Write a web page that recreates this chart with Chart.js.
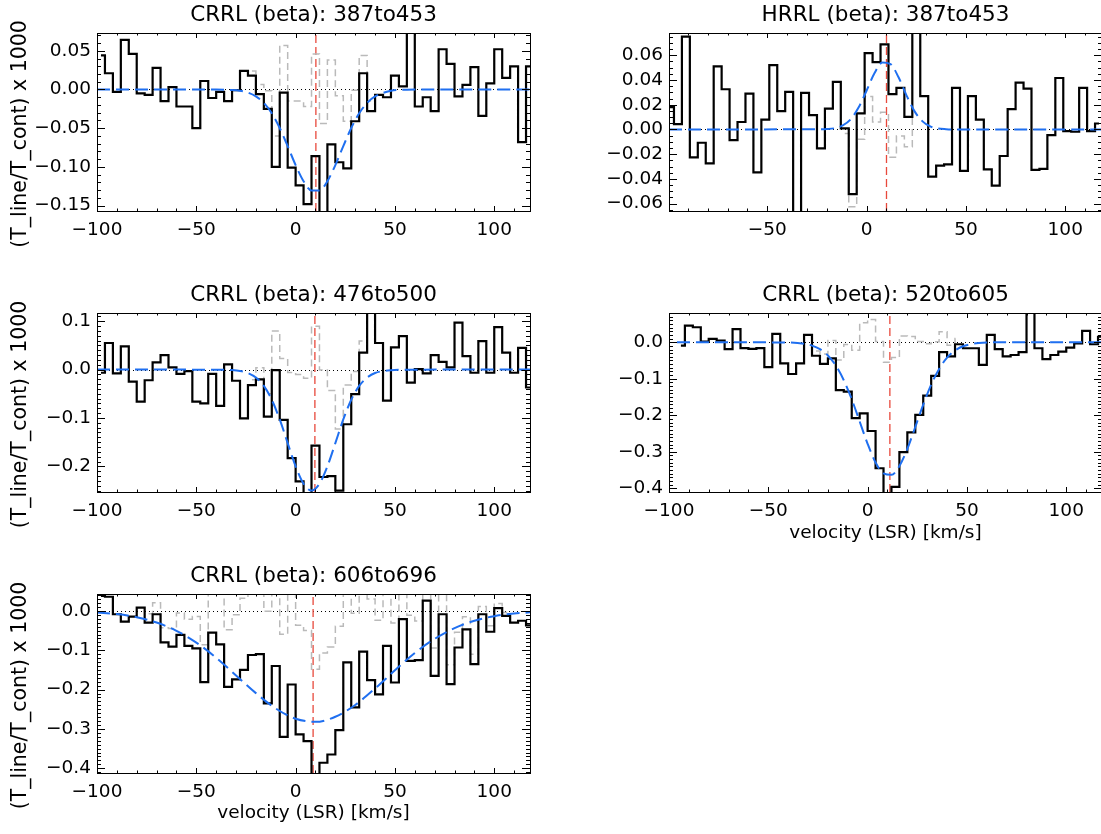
<!DOCTYPE html>
<html>
<head>
<meta charset="utf-8">
<script src="https://cdn.jsdelivr.net/npm/chart.js@4.4.1/dist/chart.umd.min.js"></script>
<style>
  body { margin: 0; background: #fff; width: 1101px; height: 834px; overflow: hidden; position: relative; }
  canvas { position: absolute; }
</style>
</head>
<body>
<canvas id="p1" width="560" height="280" style="left:0;top:0"></canvas>
<canvas id="p2" width="560" height="280" style="left:560px;top:0"></canvas>
<canvas id="p3" width="560" height="280" style="left:0;top:280px"></canvas>
<canvas id="p4" width="560" height="280" style="left:560px;top:280px"></canvas>
<canvas id="p5" width="560" height="273" style="left:0;top:561px"></canvas>
<script>
// velocity grids (bin centres, km/s)
var velCRRL = [-98, -94, -90, -86, -82, -78, -74, -70, -66, -62, -58, -54, -50, -46, -42, -38, -34, -30, -26, -22,
  -18, -14, -10, -6, -2, 2, 6, 10, 14, 18, 22, 26, 30, 34, 38, 42, 46, 50, 54, 58, 62, 66, 70, 74, 78, 82, 86, 90,
  94, 98, 102, 106, 110, 114, 118];
var velHRRL = [-99, -95, -91, -87, -83, -79, -75, -71, -67, -63, -59, -55, -51, -47, -43, -39, -35, -31, -27, -23,
  -19, -15, -11, -7, -3, 1, 5, 9, 13, 17, 21, 25, 29, 33, 37, 41, 45, 49, 53, 57, 61, 65, 69, 73, 77, 81, 85, 89,
  93, 97, 101, 105, 109, 113, 117];
var vel520 = [-94, -90, -86, -82, -78, -74, -70, -66, -62, -58, -54, -50, -46, -42, -38, -34, -30, -26, -22, -18,
  -14, -10, -6, -2, 2, 6, 10, 14, 18, 22, 26, 30, 34, 38, 42, 46, 50, 54, 58, 62, 66, 70, 74, 78, 82, 86, 90,
  94, 98, 102, 106, 110, 114, 118];

// spectra (T_line/T_cont x 1000)
var flux387 = [0.044, 0.021, -0.003, 0.064, 0.046, -0.005, -0.007, 0.028, -0.015, 0.003,
  -0.022, -0.022, -0.050, 0.011, -0.011, -0.003, -0.015, -0.001, 0.024, 0.018,
  -0.006, -0.025, -0.100, -0.004, -0.101,
  -0.124, -0.148, -0.086, -0.170, -0.071, -0.094, -0.102, -0.041, 0.021, -0.028,
  -0.007, -0.010, 0.018, 0.004, 0.085, -0.022, -0.010, -0.028, 0.052, 0.033,
  -0.009, 0.006, 0.029, -0.034, 0.008, 0.052, 0.015, 0.030, -0.068, 0.030];
var hrrl387 = [0.018, 0.0043, 0.075, -0.0226, -0.0108, -0.0274, 0.051, 0.0325, -0.0086, 0.006,
  0.029, -0.0347, 0.008, 0.052, 0.0148, 0.0303, -0.075, 0.0295, 0.0115, -0.0153,
  0.0169, 0.0384, 0.0008, -0.0524, 0.0129,
  0.0618, 0.0545, 0.0688, 0.0285, 0.0336, 0.0102, 0.085, 0.0269, -0.0382, -0.0293,
  -0.0282, 0.0336, -0.0336, 0.0269, 0.008, -0.0323, -0.0455, -0.0215, 0.0164, 0.0379,
  0.033, -0.0328, -0.032, -0.0046, 0.0416, -0.0014, -0.0019, 0.0336, -0.0014, 0.0048];
var flux476 = [-0.0065, 0.055, -0.008, 0.048, -0.025, -0.066, -0.022, 0.015, 0.030, 0.0045,
  -0.009, -0.003, -0.066, -0.070, -0.009, -0.075, 0.011, -0.023, -0.101, -0.032,
  -0.020, -0.097, -0.001, -0.104, -0.183,
  -0.231, -0.265, -0.157, -0.222, -0.220, -0.250, -0.113, -0.0505, 0.035, 0.125,
  0.055, -0.064, 0.046, 0.069, -0.027, 0.001, -0.008, 0.030, 0.016, 0.0045,
  0.097, 0.028, -0.0065, 0.059, -0.0065, 0.088, 0.035, -0.0065, 0.045, -0.037];
var flux520 = [-0.0093, 0.0455, 0.041, 0.0016, 0.009, 0.0044, -0.019, 0.036, -0.016, -0.018,
  -0.016, -0.068, 0.023, -0.058, -0.087, -0.058, 0.020, -0.037, -0.059, -0.044,
  -0.131, -0.135, -0.208, -0.195,
  -0.243, -0.345, -0.420, -0.396, -0.301, -0.247, -0.199, -0.146, -0.092, -0.027,
  -0.039, -0.0055, -0.0165, -0.0165, -0.062, 0.020, -0.019, -0.039, -0.035, -0.027,
  0.090, -0.0165, -0.046, -0.035, -0.026, -0.015, -0.003, 0.031, -0.0055, 0.015];
var flux606 = [0.038, 0.036, -0.0085, -0.027, -0.0145, 0.0085, -0.030, -0.0085, -0.080, -0.091,
  -0.061, -0.089, -0.095, -0.181, -0.055, -0.085, -0.193, -0.174, -0.150, -0.112,
  -0.110, -0.235, -0.140, -0.320, -0.187,
  -0.314, -0.331, -0.430, -0.386, -0.365, -0.303, -0.131, -0.245, -0.1035, -0.176,
  -0.212, -0.089, -0.182, -0.021, -0.127, -0.125, 0.026, -0.165, -0.0085, -0.186,
  -0.093, -0.047, -0.135, -0.0085, -0.053, 0.007, -0.0127, -0.030, -0.025, -0.037];

// residuals (data - fit), only around the line
var res387V = [-22, -18, -14, -10, -6, -2, 2, 6, 10, 14, 18, 22, 26, 30, 34, 38];
var res387 = [0.024, 0.0065, -0.0016, -0.060, 0.057, -0.015, -0.015, -0.022, 0.046, -0.044, 0.038, -0.008, -0.041, -0.001, 0.044, -0.015];
var resH387V = [-11, -7, -3, 1, 5, 9, 13, 17, 21, 25];
var resH387 = [-0.0033, -0.0626, -0.008, 0.0266, 0.006, 0.0138, -0.0225, -0.0053, -0.0141, 0.018];
var res476V = [-22, -18, -14, -10, -6, -2, 2, 6, 10, 14, 18, 22, 26, 30, 34];
var res476 = [-0.021, 0.004, -0.050, 0.080, 0.023, -0.006, -0.010, -0.018, 0.0895, -0.001, -0.043, -0.123, -0.032, -0.004, 0.059];
var res520V = [-26, -22, -18, -14, -10, -6, -2, 2, 6, 10, 14, 18, 22, 26, 30, 34, 38, 42, 46];
var res520 = [-0.024, -0.032, 0.005, -0.049, -0.006, -0.022, 0.053, 0.062, 0.002, -0.055, -0.042, 0.017, 0.016, 0.002, -0.004, 0.001, 0.029, -0.008, 0.0105];
var res606V = [-74, -70, -66, -62, -58, -54, -50, -46, -42, -38, -34, -30, -26, -22, -18, -14, -10, -6, -2,
  2, 6, 10, 14, 18, 22, 26, 30, 34, 38, 42, 46, 50, 54, 58, 62, 66, 70, 74, 78, 82, 86, 90, 94, 98, 102, 106, 110];
var res606 = [-0.007, 0.021, -0.043, -0.045, -0.005, -0.0215, -0.0145, -0.086, 0.056, 0.043,
  -0.048, -0.010, 0.032, 0.088, 0.108, -0.001, 0.108, -0.059, 0.084,
  -0.0365, -0.050, -0.148, -0.107, -0.092, -0.039, 0.121, -0.006, 0.119, 0.030,
  -0.024, 0.080, -0.031, 0.112, -0.011, -0.0255, 0.111, -0.094, 0.051, -0.137,
  -0.054, -0.015, -0.110, 0.011, -0.038, 0.019, -0.004, -0.023];

// gaussian fits
var fit387V = [-100, -40, -32, -28, -24, -20, -16, -12, -8, -4, 0, 4, 8, 12, 16, 20, 24, 28, 32, 36, 40, 48, 56, 118];
var fit387 = [0, -0.0001, -0.0007, -0.0017, -0.0041, -0.0089, -0.0173, -0.0308, -0.0498, -0.0732, -0.0977, -0.1185,
  -0.1304, -0.1304, -0.1185, -0.0977, -0.0732, -0.0498, -0.0308, -0.0173, -0.0089, -0.0017, -0.0002, 0];
var fitH387V = [-99.5, -24, -20, -16, -12, -8, -4, 0, 4, 8, 12, 16, 20, 24, 28, 32, 36, 40, 44, 118.5];
var fitH387 = [0, 0.0001, 0.0003, 0.0010, 0.0032, 0.0083, 0.0179, 0.0315, 0.0456, 0.0542, 0.0529, 0.0424, 0.0278,
  0.0150, 0.0067, 0.0024, 0.0007, 0.0002, 0, 0];
var fit476V = [-100, -40, -32, -28, -24, -20, -16, -12, -8, -4, 0, 4, 8, 12, 16, 20, 24, 28, 32, 36, 40, 48, 56, 118];
var fit476 = [0, -0.0001, -0.001, -0.0028, -0.0071, -0.0164, -0.0338, -0.0623, -0.103, -0.152, -0.200, -0.236,
  -0.250, -0.236, -0.200, -0.152, -0.103, -0.0623, -0.0338, -0.0164, -0.0071, -0.0011, -0.0001, 0];
var fit520V = [-96, -40, -32, -28, -24, -20, -16, -12, -8, -4, 0, 4, 8, 12, 16, 20, 24, 28, 32, 36, 40, 44, 48, 56, 64, 118];
var fit520 = [0, -0.0007, -0.0041, -0.0092, -0.019, -0.0363, -0.064, -0.104, -0.156, -0.217, -0.278, -0.329, -0.359,
  -0.363, -0.339, -0.292, -0.232, -0.171, -0.116, -0.073, -0.042, -0.0226, -0.0111, -0.0021, -0.0003, 0];
var fit606V = [-100, -90, -80, -70, -60, -50, -40, -30, -20, -10, 0, 10, 20, 30, 40, 50, 60, 70, 80, 90, 100, 110, 118];
var fit606 = [-0.0038, -0.0081, -0.016, -0.0296, -0.0505, -0.0805, -0.119, -0.164, -0.209, -0.248, -0.274, -0.282,
  -0.269, -0.239, -0.197, -0.151, -0.107, -0.071, -0.0438, -0.025, -0.0133, -0.0066, -0.0036];

// tick labels
var xTicks = [-100, -50, 0, 50, 100];
var xTicksH = [-50, 0, 50, 100];
var yTicks387 = [0.05, 0, -0.05, -0.10, -0.15];
var yTicksH387 = [0.06, 0.04, 0.02, 0, -0.02, -0.04, -0.06];
var yTicks476 = [0.1, 0, -0.1, -0.2];
var yTicks520 = [0, -0.1, -0.2, -0.3, -0.4];
var yTicks606 = [0, -0.1, -0.2, -0.3, -0.4];

Chart.defaults.font.family = 'DejaVu Sans';
Chart.defaults.color = '#000';

function xy(xs, ys) {
  return xs.map(function (v, i) { return { x: v, y: ys[i] }; });
}

function fmt(dec) {
  return function (value) { return value.toFixed(dec).replace('-', '\u2212'); };
}

function crisp(v) { return Math.round(v) + 0.5; }

// IDL style box with inward ticks on all four sides, zero line, line velocity marker and titles
var idlAxes = {
  id: 'idlAxes',
  beforeDatasetsDraw: function (chart, args, o) {
    var a = chart.chartArea, c = chart.ctx;
    c.save();
    c.beginPath();
    c.rect(a.left, a.top, a.right - a.left, a.bottom - a.top);
    c.clip();
    var y0 = crisp(chart.scales.y.getPixelForValue(0));
    c.strokeStyle = '#000';
    c.lineWidth = 1;
    c.setLineDash([1, 3]);
    c.beginPath(); c.moveTo(a.left, y0); c.lineTo(a.right, y0); c.stroke();
    var xv = chart.scales.x.getPixelForValue(o.restVel);
    c.strokeStyle = '#e8493c';
    c.lineWidth = 1.3;
    c.setLineDash([8, 4]);
    c.beginPath(); c.moveTo(xv, a.bottom); c.lineTo(xv, a.top); c.stroke();
    c.restore();
  },
  afterDatasetsDraw: function (chart, args, o) {
    var a = chart.chartArea, c = chart.ctx, sx = chart.scales.x, sy = chart.scales.y;
    c.save();
    c.strokeStyle = '#000';
    c.lineWidth = 1;
    c.strokeRect(crisp(a.left), crisp(a.top), Math.round(a.right - a.left), Math.round(a.bottom - a.top));
    c.beginPath();
    function xt(px, len) {
      px = crisp(px);
      c.moveTo(px, a.bottom); c.lineTo(px, a.bottom - len);
      c.moveTo(px, a.top); c.lineTo(px, a.top + len);
    }
    function yt(py, len) {
      py = crisp(py);
      c.moveTo(a.left, py); c.lineTo(a.left + len, py);
      c.moveTo(a.right, py); c.lineTo(a.right - len, py);
    }
    var k;
    for (k = Math.ceil(sx.min / o.xMinor - 1e-6); k <= Math.floor(sx.max / o.xMinor + 1e-6); k++) xt(sx.getPixelForValue(k * o.xMinor), 2.5);
    for (k = Math.ceil(sy.min / o.yMinor - 1e-6); k <= Math.floor(sy.max / o.yMinor + 1e-6); k++) yt(sy.getPixelForValue(k * o.yMinor), 4);
    sx.ticks.forEach(function (t) { xt(sx.getPixelForValue(t.value), 5); });
    sy.ticks.forEach(function (t) { yt(sy.getPixelForValue(t.value), 8); });
    c.stroke();

    // panel title, centred over the plot box
    c.fillStyle = '#000';
    c.textAlign = 'center';
    c.textBaseline = 'middle';
    c.font = '21.5px "DejaVu Sans"';
    c.fillText(o.title, (a.left + a.right) / 2, 15.5);
    // y axis title (IDL puts it a bit below the box centre here)
    if (o.yTitle) {
      c.translate(21, (a.top + a.bottom) / 2 + 12);
      c.rotate(-Math.PI / 2);
      c.font = '20.5px "DejaVu Sans"';
      c.fillText(o.yTitle, 0, 0);
    }
    c.restore();
  }
};

function makePanel(id, p) {
  var ctx = document.getElementById(id).getContext('2d');
  return new Chart(ctx, {
    type: 'line',
    data: {
      datasets: [
        { data: xy(p.fitV, p.fit), borderColor: '#1f6ff0', borderWidth: 2, borderDash: [13, 6], cubicInterpolationMode: 'monotone' },
        { data: xy(p.vel, p.flux), borderColor: '#000', borderWidth: 2.2, stepped: 'middle' },
        { data: xy(p.resV, p.res), borderColor: '#bababa', borderWidth: 1.5, borderDash: [7, 4], stepped: 'middle' }
      ]
    },
    options: {
      responsive: false,
      animation: false,
      layout: { padding: { left: 0, right: p.padRight, top: 33, bottom: 0 } },
      elements: { point: { radius: 0 }, line: { fill: false } },
      plugins: {
        legend: { display: false },
        tooltip: { enabled: false },
        title: { display: false },
        idlAxes: { restVel: p.restVel, xMinor: 10, yMinor: p.yMinor, title: p.title, yTitle: p.yTitle }
      },
      scales: {
        x: {
          type: 'linear', min: p.xMin, max: p.xMax,
          grid: { display: false, drawTicks: false },
          border: { display: false },
          afterBuildTicks: function (s) { s.ticks = p.xTicks.map(function (v) { return { value: v }; }); },
          afterFit: function (s) { s.height = p.xHeight; },
          ticks: { autoSkip: false, maxRotation: 0, padding: 8, font: { size: 18.5 }, callback: fmt(0) },
          title: {
            display: !!p.xTitle, text: p.xTitle || '',
            font: { size: 18.5, lineHeight: 1 },
            padding: { top: 0, bottom: p.xTitlePad || 0 }
          }
        },
        y: {
          type: 'linear', min: p.yMin, max: p.yMax,
          grid: { display: false, drawTicks: false },
          border: { display: false },
          afterBuildTicks: function (s) { s.ticks = p.yTicks.map(function (v) { return { value: v }; }); },
          afterFit: function (s) { s.width = p.yWidth; },
          ticks: { autoSkip: false, padding: 6, font: { size: 18.5 }, callback: fmt(p.yDec) }
        }
      }
    },
    plugins: [idlAxes]
  });
}

var yLabel = '(T_line/T_cont) x 1000';
var xLabel = 'velocity (LSR) [km/s]';

makePanel('p1', {
  title: 'CRRL (beta): 387to453', vel: velCRRL, flux: flux387, resV: res387V, res: res387, fitV: fit387V, fit: fit387,
  xMin: -100, xMax: 118, yMin: -0.157, yMax: 0.073, xTicks: xTicks, yTicks: yTicks387, yDec: 2, yMinor: 0.01,
  restVel: 10.2, yWidth: 97, padRight: 30, xHeight: 69, yTitle: yLabel
});
makePanel('p2', {
  title: 'HRRL (beta): 387to453', vel: velHRRL, flux: hrrl387, resV: resH387V, res: resH387, fitV: fitH387V, fit: fitH387,
  xMin: -99.5, xMax: 118.5, yMin: -0.066, yMax: 0.078, xTicks: xTicksH, yTicks: yTicksH387, yDec: 2, yMinor: 0.005,
  restVel: 10, yWidth: 109, padRight: 18, xHeight: 69
});
makePanel('p3', {
  title: 'CRRL (beta): 476to500', vel: velCRRL, flux: flux476, resV: res476V, res: res476, fitV: fit476V, fit: fit476,
  xMin: -100, xMax: 118, yMin: -0.253, yMax: 0.117, xTicks: xTicks, yTicks: yTicks476, yDec: 1, yMinor: 0.01,
  restVel: 9.7, yWidth: 97, padRight: 30, xHeight: 68, yTitle: yLabel
});
makePanel('p4', {
  title: 'CRRL (beta): 520to605', vel: vel520, flux: flux520, resV: res520V, res: res520, fitV: fit520V, fit: fit520,
  xMin: -100, xMax: 118, yMin: -0.41, yMax: 0.080, xTicks: xTicks, yTicks: yTicks520, yDec: 1, yMinor: 0.01,
  restVel: 11.2, yWidth: 109, padRight: 18, xHeight: 68, xTitle: xLabel, xTitlePad: 17.75
});
makePanel('p5', {
  title: 'CRRL (beta): 606to696', vel: velCRRL, flux: flux606, resV: res606V, res: res606, fitV: fit606V, fit: fit606,
  xMin: -100, xMax: 118, yMin: -0.412, yMax: 0.043, xTicks: xTicks, yTicks: yTicks606, yDec: 1, yMinor: 0.01,
  restVel: 8.8, yWidth: 97, padRight: 30, xHeight: 61, yTitle: yLabel, xTitle: xLabel, xTitlePad: 11.75
});
</script>
</body>
</html>
